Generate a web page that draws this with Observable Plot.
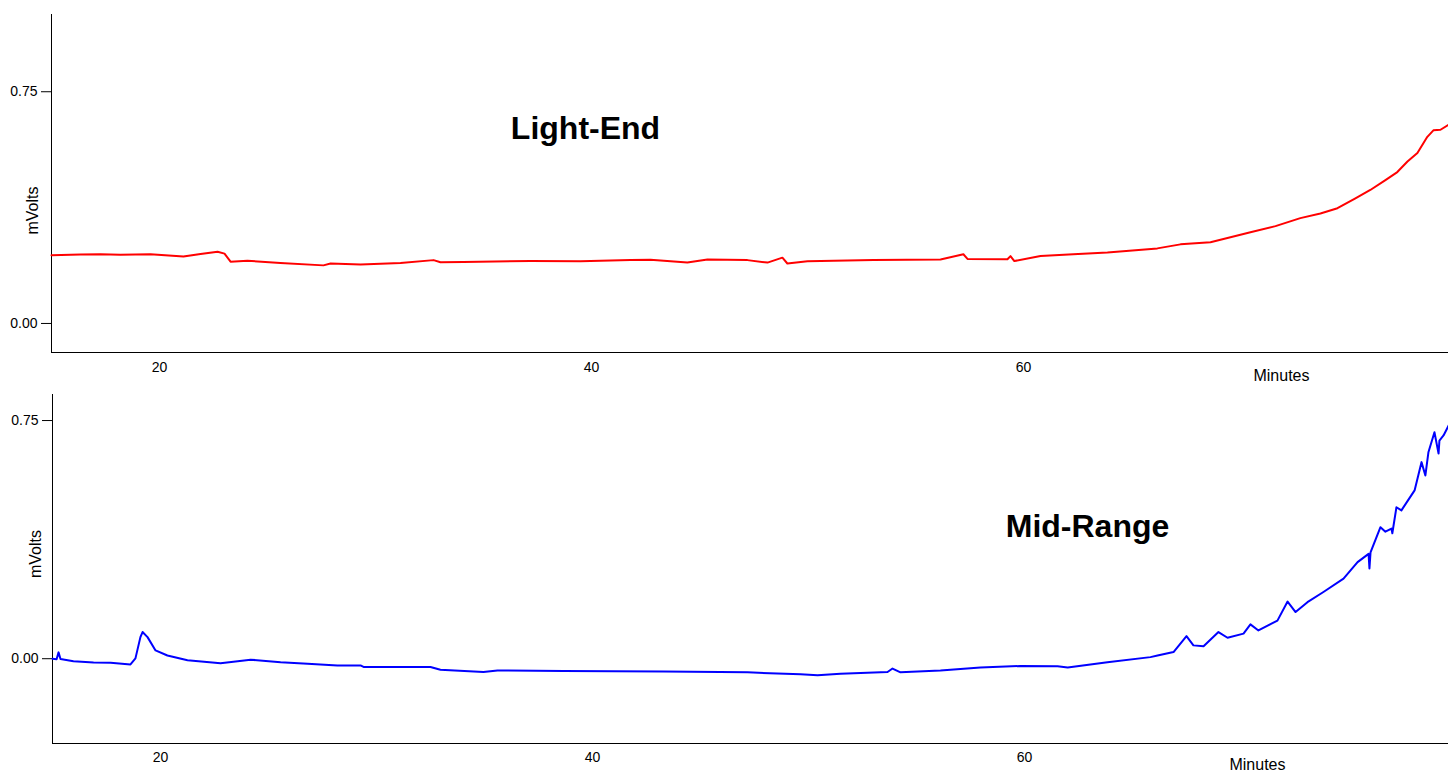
<!DOCTYPE html>
<html>
<head>
<meta charset="utf-8">
<script src="https://cdn.jsdelivr.net/npm/d3@7"></script>
<script src="https://cdn.jsdelivr.net/npm/@observablehq/plot@0.6"></script>
<style>
  html, body { margin: 0; padding: 0; background: #fff; }
  #chart { width: 1448px; height: 772px; overflow: hidden; }
  #chart svg { display: block; }
</style>
</head>
<body>
<div id="chart"></div>
<script>
// ---- Data ----
const xTicks = [20, 40, 60];
const yTicks = [0, 0.75];

// Light-End trace (minutes, mVolts)
const lightEndMinutes = [15.00, 16.34, 17.27, 18.19, 19.58, 21.11, 21.90, 22.69, 23.01, 23.29, 24.07, 25.60, 27.59, 27.92, 29.31, 31.16, 32.69, 33.01, 34.07, 37.18, 39.49, 41.81, 42.73, 44.44, 45.37, 47.22, 48.15, 48.84, 49.07, 50.00, 53.06, 56.16, 57.22, 57.41, 59.26, 59.40, 59.58, 60.79, 62.31, 63.89, 66.20, 67.27, 68.66, 70.51, 71.67, 72.82, 73.75, 74.54, 75.37, 76.06, 76.76, 77.31, 77.78, 78.24, 78.70, 78.98, 79.31, 79.68];
const lightEndMv = [0.221, 0.223, 0.224, 0.222, 0.224, 0.217, 0.225, 0.232, 0.226, 0.200, 0.203, 0.196, 0.188, 0.194, 0.191, 0.196, 0.205, 0.198, 0.199, 0.202, 0.201, 0.205, 0.206, 0.197, 0.207, 0.205, 0.197, 0.213, 0.194, 0.201, 0.205, 0.207, 0.224, 0.209, 0.208, 0.218, 0.202, 0.218, 0.224, 0.230, 0.243, 0.256, 0.263, 0.295, 0.315, 0.341, 0.356, 0.373, 0.405, 0.432, 0.464, 0.490, 0.524, 0.552, 0.604, 0.625, 0.627, 0.643];

// Mid-Range trace (minutes, mVolts)
const midRangeMinutes = [15.00, 15.19, 15.28, 15.37, 15.97, 16.90, 17.69, 18.61, 18.84, 19.07, 19.17, 19.40, 19.77, 20.32, 21.25, 22.78, 24.17, 25.56, 26.81, 28.19, 29.26, 29.40, 32.50, 32.96, 34.95, 35.60, 38.66, 43.29, 47.18, 49.63, 50.42, 51.48, 53.66, 53.89, 54.26, 56.11, 57.96, 59.81, 61.53, 62.00, 63.84, 65.83, 66.16, 66.90, 67.50, 67.82, 68.29, 68.98, 69.40, 70.14, 70.46, 70.83, 71.71, 72.18, 72.55, 73.10, 73.84, 74.77, 75.42, 75.93, 75.97, 76.02, 76.48, 76.71, 76.99, 77.03, 77.22, 77.45, 78.06, 78.38, 78.56, 78.61, 78.70, 78.98, 79.17, 79.21, 79.40, 79.68];
const midRangeMv = [0.000, -0.002, 0.020, -0.001, -0.008, -0.012, -0.013, -0.018, 0.001, 0.068, 0.084, 0.068, 0.026, 0.010, -0.005, -0.014, -0.003, -0.011, -0.016, -0.021, -0.021, -0.026, -0.026, -0.035, -0.042, -0.037, -0.039, -0.040, -0.043, -0.049, -0.052, -0.047, -0.042, -0.031, -0.043, -0.037, -0.028, -0.023, -0.024, -0.028, -0.011, 0.005, 0.010, 0.021, 0.071, 0.042, 0.039, 0.084, 0.066, 0.079, 0.108, 0.089, 0.120, 0.180, 0.147, 0.178, 0.210, 0.252, 0.304, 0.330, 0.284, 0.335, 0.414, 0.400, 0.410, 0.395, 0.477, 0.467, 0.530, 0.619, 0.577, 0.603, 0.650, 0.713, 0.646, 0.687, 0.703, 0.740];

const panelTitles = ["Light-End", "Mid-Range"];
const xLabel = "Minutes";
const yLabel = "mVolts";

// ---- Build ----
const font = "'Liberation Sans', Arial, Helvetica, sans-serif";
const fmt = d3.format(".2f");

function panel(opts) {
  const data = opts.minutes.map((m, i) => ({m, v: opts.mv[i]}));
  return Plot.plot({
    width: 1448,
    height: opts.height,
    marginLeft: opts.marginLeft,
    marginRight: 0,
    marginTop: opts.marginTop,
    marginBottom: opts.marginBottom,
    style: {fontFamily: font, fontSize: "14px", color: "#000", background: "#fff", overflow: "visible"},
    x: {domain: opts.xDomain},
    y: {domain: opts.yDomain},
    marks: [
      Plot.axisY({ticks: yTicks, tickFormat: fmt, tickSize: 10, tickPadding: 4, label: null, fontSize: 14}),
      Plot.axisX({ticks: xTicks, tickSize: 0, tickPadding: opts.xPad, label: null, fontSize: 14}),
      Plot.ruleX([opts.xDomain[0]], {stroke: "#000", strokeWidth: 1}),
      Plot.ruleY([opts.yDomain[0]], {stroke: "#000", strokeWidth: 1}),
      Plot.line(data, {x: "m", y: "v", stroke: opts.color, strokeWidth: 2, curve: "linear"}),
      Plot.text([opts.title], {text: d => d, frameAnchor: "top-left", dx: opts.titleDx, dy: opts.titleDy,
        fontSize: 32, fontWeight: "bold", textAnchor: "middle", lineAnchor: "middle", fill: "#000"}),
      Plot.text([yLabel], {text: d => d, frameAnchor: "left", rotate: -90, dx: opts.yLabDx, dy: opts.yLabDy,
        fontSize: 16, textAnchor: "middle", lineAnchor: "middle", fill: "#000"}),
      Plot.text([xLabel], {text: d => d, frameAnchor: "bottom-left", dx: opts.xLabDx, dy: opts.xLabDy,
        fontSize: 16, textAnchor: "middle", lineAnchor: "middle", fill: "#000"})
    ]
  });
}

const topPanel = panel({
  minutes: lightEndMinutes, mv: lightEndMv, color: "#ff0000", title: panelTitles[0],
  height: 382, marginLeft: 51, marginTop: 14, marginBottom: 30,
  xDomain: [15, 79.68], yDomain: [-0.094, 1.0], xPad: 10,
  titleDx: 534, titleDy: 114, yLabDx: -19, yLabDy: 27, xLabDx: 1230, xLabDy: 23
});
const bottomPanel = panel({
  minutes: midRangeMinutes, mv: midRangeMv, color: "#0000ff", title: panelTitles[1],
  height: 390, marginLeft: 52, marginTop: 12, marginBottom: 29,
  xDomain: [15, 79.63], yDomain: [-0.267, 0.832], xPad: 9,
  titleDx: 1035, titleDy: 132, yLabDx: -17, yLabDy: -15, xLabDx: 1205, xLabDy: 21
});
document.getElementById("chart").append(topPanel, bottomPanel);
</script>
</body>
</html>
